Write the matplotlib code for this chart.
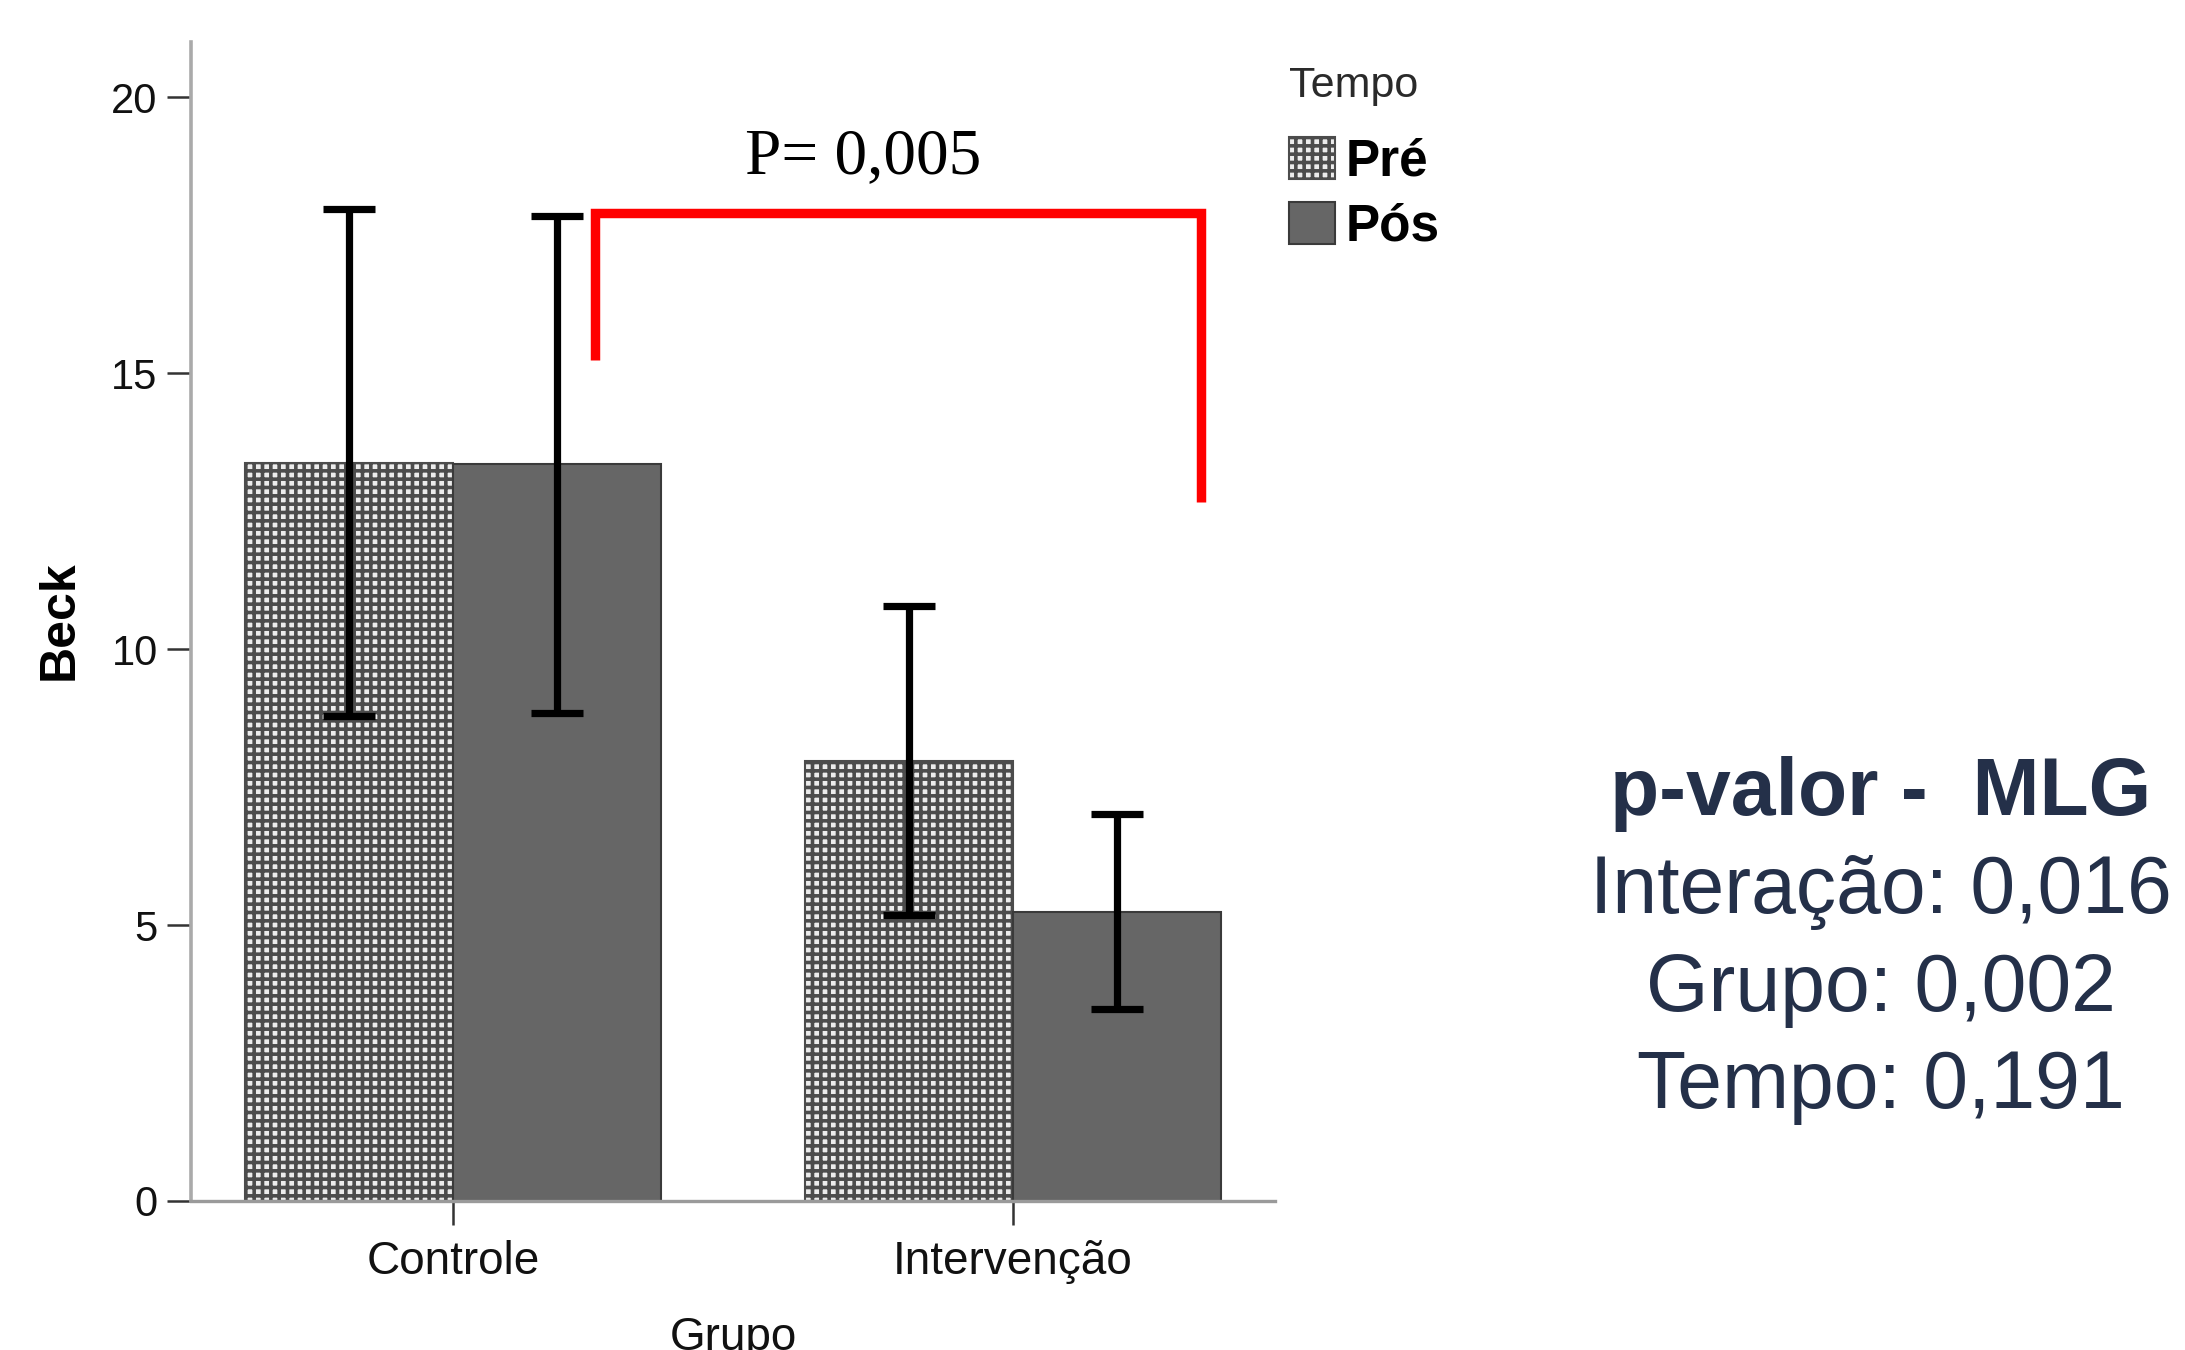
import matplotlib
matplotlib.use('Agg')
import matplotlib.pyplot as plt
from matplotlib.patches import Patch

# ---- data ----
groups = ['Controle', 'Intervenção']
series = ['Pré', 'Pós']
pre_means = [13.38, 7.98]
pos_means = [13.36, 5.23]
pre_low = [8.79, 5.18]
pre_high = [17.98, 10.78]
pos_low = [8.84, 3.48]
pos_high = [17.85, 7.02]
yticks = [0, 5, 10, 15, 20]
p_label = 'P= 0,005'
bracket_x = [0.254, 0.254, 1.336, 1.336]
bracket_y = [15.24, 17.90, 17.90, 12.66]
stats_title = 'p-valor -  MLG'
stats_lines = ['Interação: 0,016', 'Grupo: 0,002', 'Tempo: 0,191']

plt.rcParams['font.family'] = ['Liberation Sans', 'DejaVu Sans']
plt.rcParams['hatch.linewidth'] = 2.6

fig = plt.figure(figsize=(21.85, 13.5), dpi=100)
ax = fig.add_axes([191/2185, 1-1201/1350, (1275-191)/2185, (1201-42)/1350])

w = 0.371
x = [0, 1]
xpre = [xi - w/2 for xi in x]
xpos = [xi + w/2 for xi in x]

ax.bar(xpre, pre_means, width=w, facecolor='#ececec', edgecolor='#4c4c4c',
       hatch='++', linewidth=1.5, label='Pré', zorder=2)
ax.bar(xpos, pos_means, width=w, facecolor='#666666', edgecolor='#3a3a3a',
       linewidth=1.5, label='Pós', zorder=2)

pre_err = [[m - l for m, l in zip(pre_means, pre_low)],
           [h - m for m, h in zip(pre_means, pre_high)]]
pos_err = [[m - l for m, l in zip(pos_means, pos_low)],
           [h - m for m, h in zip(pos_means, pos_high)]]
ekw = dict(fmt='none', ecolor='#000000', elinewidth=5.2, capsize=19,
           capthick=5.2, zorder=3)
ax.errorbar(xpre, pre_means, yerr=pre_err, **ekw)
ax.errorbar(xpos, pos_means, yerr=pos_err, **ekw)

# significance bracket
ax.plot(bracket_x, bracket_y, color='#ff0000', linewidth=6.8,
        solid_joinstyle='miter', solid_capstyle='butt', zorder=4)
ax.text(0.521, 18.62, p_label, family=['Liberation Serif', 'DejaVu Serif'],
        fontsize=47, ha='left', va='baseline', color='#000000')

ax.set_xlim(-0.468, 1.468)
ax.set_ylim(0, 21.0)
ax.set_yticks(yticks)
ax.set_yticklabels([str(t) for t in yticks])
ax.set_xticks(x)
ax.set_xticklabels(groups)

for s in ['top', 'right']:
    ax.spines[s].set_visible(False)
ax.spines['left'].set_color('#aaaaaa')
ax.spines['left'].set_linewidth(2.6)
ax.spines['bottom'].set_color('#9a9a9a')
ax.spines['bottom'].set_linewidth(2.4)

ax.tick_params(axis='y', length=17, width=1.8, color='#333333', pad=7,
               labelsize=30, labelcolor='#111111')
ax.tick_params(axis='x', length=17, width=1.8, color='#333333', pad=11,
               labelsize=33, labelcolor='#111111')

ax.set_ylabel('Beck', fontsize=36, fontweight='bold', color='#000000')
ax.yaxis.label.set_va('center')
ax.yaxis.set_label_coords(-0.121, 0.501)
ax.set_xlabel('Grupo', fontsize=33, color='#111111')
ax.xaxis.label.set_va('baseline')
ax.xaxis.set_label_coords(0.5, -0.1286)

# legend
handles = [Patch(facecolor='#ececec', edgecolor='#4c4c4c', hatch='++', linewidth=1.5),
           Patch(facecolor='#666666', edgecolor='#3a3a3a', linewidth=1.5)]
leg = ax.legend(handles, series, title='Tempo', loc='upper left',
                bbox_to_anchor=(1289/2185, 1-66/1350), bbox_transform=fig.transFigure,
                frameon=False, borderpad=0, borderaxespad=0,
                prop={'size': 37, 'weight': 'bold'}, title_fontsize=31,
                handlelength=0.9, handleheight=0.88, handletextpad=0.2,
                labelspacing=0.3, alignment='left')
leg.get_title().set_color('#2a2a2a')
leg._legend_box.sep = 22

# right-hand statistics text
txt_color = '#243049'
cx = 1881/2185
fig.text(cx, 1-815/1350, stats_title, ha='center', va='baseline', fontsize=58,
         fontweight='bold', color=txt_color)
for i, line in enumerate(stats_lines):
    fig.text(cx, 1-(913 + 97.5*i)/1350, line, ha='center', va='baseline',
             fontsize=58, color=txt_color)

fig.savefig('out.png', dpi=100, facecolor='white')
